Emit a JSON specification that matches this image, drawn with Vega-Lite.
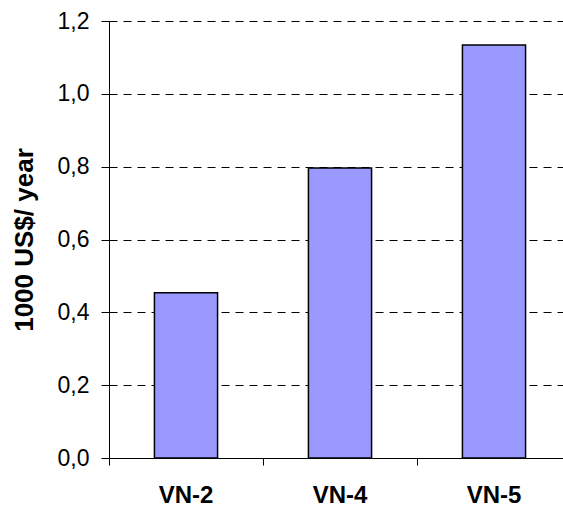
{
  "$schema": "https://vega.github.io/schema/vega-lite/v6.json",
  "autosize": {"type": "none"},
  "padding": {"left": 109, "top": 21, "right": 0, "bottom": 50},
  "width": 454,
  "height": 437,
  "background": "white",
  "config": {"view": {"stroke": null}, "font": "Liberation Sans"},
  "data": {"values": [
    {"site": "VN-2", "cost": 0.454},
    {"site": "VN-4", "cost": 0.796},
    {"site": "VN-5", "cost": 1.134}
  ]},
  "mark": {"type": "bar", "color": "#9999FF", "stroke": "#000000", "strokeWidth": 1.5, "width": {"band": 0.41}},
  "encoding": {
    "x": {
      "field": "site", "type": "nominal", "sort": null,
      "scale": {"range": [0, 462], "paddingInner": 0, "paddingOuter": 0},
      "axis": {
        "title": null, "labelAngle": 0, "bandPosition": 0,
        "labelFont": "Liberation Sans", "labelFontSize": 24, "labelFontWeight": "bold", "labelColor": "#000000",
        "labelPadding": 18, "tickSize": 7, "tickColor": "#000000", "domainColor": "#000000",
        "grid": false, "labelBaseline": "top"
      }
    },
    "y": {
      "field": "cost", "type": "quantitative",
      "scale": {"domain": [0, 1.2], "nice": false, "zero": true},
      "axis": {
        "title": "1000 US$/ year", "values": [0, 0.2, 0.4, 0.6, 0.8, 1.0, 1.2],
        "labelExpr": "replace(format(datum.value, '.1f'), '.', ',')",
        "labelFont": "Liberation Sans", "labelFontSize": 23, "labelColor": "#000000",
        "labelPadding": 12, "tickSize": 8, "tickColor": "#000000", "domainColor": "#000000",
        "grid": true, "gridColor": "#000000", "gridDash": [8, 6], "gridWidth": 1,
        "titleFont": "Liberation Sans", "titleFontSize": 26, "titleFontWeight": "bold", "titleColor": "#000000",
        "titlePadding": 20
      }
    }
  }
}
